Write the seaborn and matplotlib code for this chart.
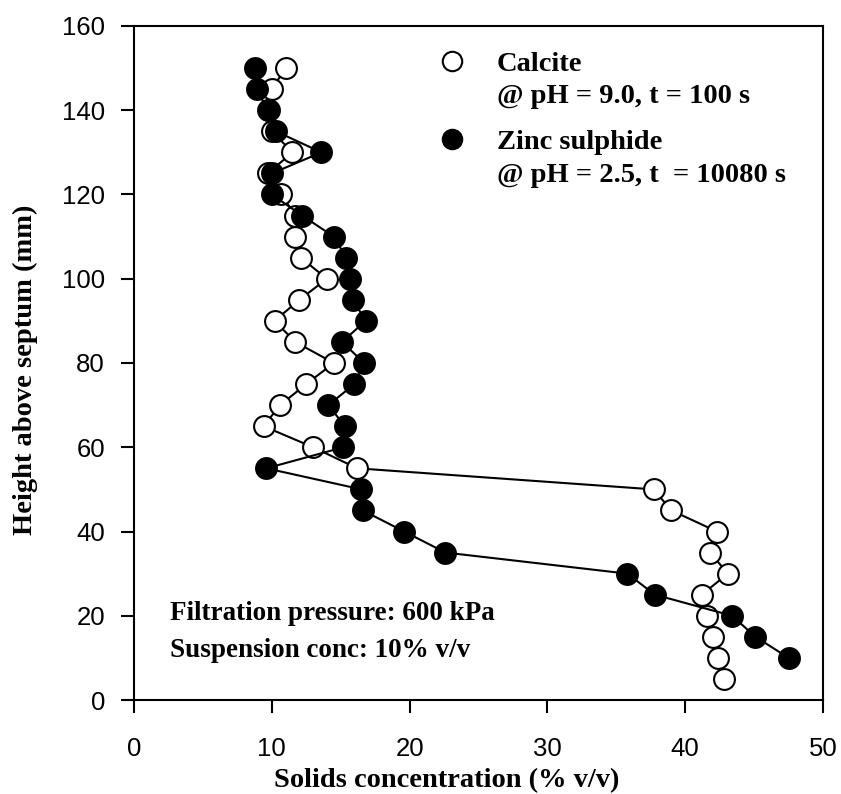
import matplotlib
matplotlib.use('Agg')
import matplotlib.pyplot as plt
import seaborn as sns
import pandas as pd
from matplotlib.lines import Line2D

# ---- data ----
calcite_height = [150, 145, 140, 135, 130, 125, 120, 115, 110, 105, 100, 95, 90, 85, 80,
                  75, 70, 65, 60, 55, 50, 45, 40, 35, 30, 25, 20, 15, 10, 5]
calcite_conc = [11.0, 10.0, 9.8, 10.0, 11.5, 9.7, 10.7, 11.7, 11.7, 12.1, 14.0, 12.0, 10.2, 11.7, 14.5,
                12.5, 10.6, 9.4, 13.0, 16.2, 37.7, 39.0, 42.3, 41.8, 43.1, 41.2, 41.6, 42.0, 42.4, 42.8]
zns_height = [150, 145, 140, 135, 130, 125, 120, 115, 110, 105, 100, 95, 90, 85, 80,
              75, 70, 65, 60, 55, 50, 45, 40, 35, 30, 25, 20, 15, 10]
zns_conc = [8.8, 8.9, 9.7, 10.3, 13.6, 10.0, 10.0, 12.2, 14.5, 15.4, 15.7, 15.9, 16.8, 15.1, 16.7,
            16.0, 14.1, 15.3, 15.2, 9.6, 16.5, 16.6, 19.6, 22.6, 35.8, 37.8, 43.4, 45.1, 47.5]
x_ticks = [0, 10, 20, 30, 40, 50]
y_ticks = [0, 20, 40, 60, 80, 100, 120, 140, 160]
calcite_label = ["Calcite", "@ pH = 9.0, t = 100 s"]
zns_label = ["Zinc sulphide", "@ pH = 2.5, t  = 10080 s"]
notes = ["Filtration pressure: 600 kPa", "Suspension conc: 10% v/v"]

sns.set_style('ticks')
plt.rcParams['font.family'] = ['Liberation Sans', 'DejaVu Sans']
plt.rcParams['text.color'] = 'black'
plt.rcParams['axes.labelcolor'] = 'black'
plt.rcParams['xtick.color'] = 'black'
plt.rcParams['ytick.color'] = 'black'
serif_bold = dict(family=['Liberation Serif', 'DejaVu Serif'], weight='bold')

fig = plt.figure(figsize=(8.41, 7.94), dpi=100)
ax = fig.add_axes([134 / 841, 94 / 794, 689 / 841, 674 / 794])

df_c = pd.DataFrame({'conc': calcite_conc, 'height': calcite_height})
df_z = pd.DataFrame({'conc': zns_conc, 'height': zns_height})

common = dict(sort=False, estimator=None, ax=ax, color='black', linewidth=1.5,
              marker='o', markersize=15, markeredgecolor='black', markeredgewidth=1.5)
sns.lineplot(data=df_c, x='conc', y='height', markerfacecolor='white', zorder=2, **common)
sns.lineplot(data=df_z, x='conc', y='height', markerfacecolor='black', zorder=3, **common)

ax.set_xlim(0, 50)
ax.set_ylim(0, 160)
ax.set_xticks(x_ticks)
ax.set_yticks(y_ticks)
ax.set_xticklabels([str(v) for v in x_ticks])
ax.set_yticklabels([str(v) for v in y_ticks])
for s in ax.spines.values():
    s.set_visible(True)
    s.set_linewidth(1.5)
    s.set_color('black')
ax.tick_params(axis='both', direction='out', length=9.4, width=1.5, labelsize=18.5,
               colors='black', labelcolor='black', top=False, right=False)
ax.tick_params(axis='x', pad=17)
ax.tick_params(axis='y', pad=11.5)

ax.set_xlabel("Solids concentration (% v/v)", fontsize=20.5, va='center', color='black', **serif_bold)
ax.xaxis.set_label_coords(0.454, -0.120)
ax.set_ylabel("Height above septum (mm)", fontsize=20.5, va='center', color='black', **serif_bold)
ax.yaxis.set_label_coords(-0.158, 0.49)

# legends
def make_legend(face, labels, top):
    h = [Line2D([], [], marker='o', ls='none', markerfacecolor=face, markeredgecolor='black',
                markersize=14, markeredgewidth=1.5),
         Line2D([], [], ls='none')]
    leg = ax.legend(h, labels, loc='upper left', bbox_to_anchor=(0.441, top), frameon=False,
                    borderpad=0, borderaxespad=0, handlelength=1.0, handletextpad=1.08,
                    labelspacing=0.22, labelcolor='black',
                    prop=dict(family=['Liberation Serif'], weight='bold', size=20.5))
    return leg

leg1 = make_legend('white', calcite_label, 0.9626)
ax.add_artist(leg1)
leg2 = make_legend('black', zns_label, 0.8466)

ax.text(0.052, 0.128, notes[0], transform=ax.transAxes, va='center', ha='left', fontsize=19.5,
        color='black', **serif_bold)
ax.text(0.052, 0.074, notes[1], transform=ax.transAxes, va='center', ha='left', fontsize=19.5,
        color='black', **serif_bold)

fig.savefig('out.png', dpi=100)
